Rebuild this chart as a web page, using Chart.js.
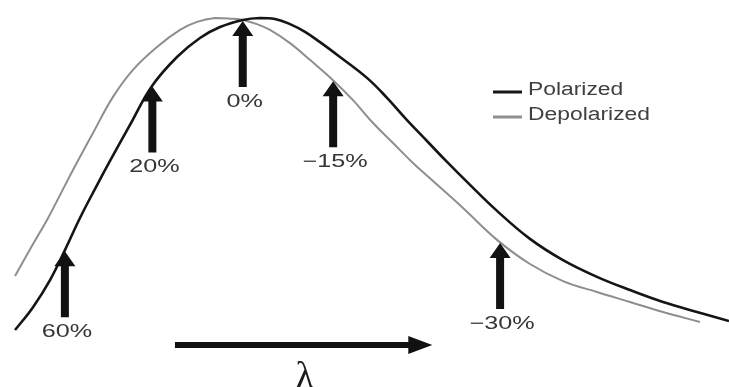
<!DOCTYPE html>
<html>
<head>
<meta charset="utf-8">
<script src="https://cdn.jsdelivr.net/npm/chart.js@4.4.1/dist/chart.umd.min.js"></script>
<style>
  html, body { margin: 0; padding: 0; background: #ffffff; }
  #wrap { width: 729px; height: 387px; }
</style>
</head>
<body>
<div id="wrap"><canvas id="c" width="729" height="387"></canvas></div>
<script>
// Spectral curves (wavelength in arbitrary units, intensity normalised to the peak)
const seriesNames = ['Polarized', 'Depolarized'];
const seriesColors = ['#151515', '#8e8e8e'];

const polarizedX = [2.06, 4.53, 6.86, 8.92, 10.97, 13.31, 15.09, 17.83, 20.85, 24.28, 27.43, 30.18,
  33.33, 35.67, 37.72, 39.78, 41.84, 43.90, 46.64, 50.34, 53.09, 55.83, 58.57, 61.32, 64.06, 68.18,
  72.70, 77.23, 81.89, 86.42, 90.95, 95.61, 100.0];
const polarizedY = [0.031, 0.102, 0.186, 0.280, 0.379, 0.481, 0.556, 0.668, 0.789, 0.879, 0.938,
  0.972, 0.994, 1.000, 0.997, 0.981, 0.957, 0.925, 0.879, 0.814, 0.752, 0.683, 0.618, 0.553, 0.491,
  0.401, 0.314, 0.248, 0.196, 0.155, 0.118, 0.087, 0.059];

const depolarizedX = [2.06, 4.53, 6.45, 8.23, 10.01, 12.76, 15.50, 18.24, 21.54, 24.69, 27.02, 29.49,
  31.55, 33.33, 35.25, 37.04, 39.78, 42.52, 45.68, 48.42, 51.17, 53.91, 56.65, 59.40, 63.51, 68.18,
  72.70, 77.23, 81.89, 86.42, 90.95, 96.02];
const depolarizedY = [0.199, 0.298, 0.373, 0.450, 0.528, 0.643, 0.755, 0.839, 0.910, 0.963, 0.988,
  1.000, 0.998, 0.994, 0.981, 0.963, 0.922, 0.870, 0.807, 0.745, 0.674, 0.612, 0.550, 0.494, 0.410,
  0.311, 0.236, 0.183, 0.149, 0.118, 0.087, 0.056];

// Annotated positions along the curves
const arrowX = [8.9, 20.9, 33.3, 45.7, 68.6];
const arrowLabels = ['60%', '20%', '0%', '\u221215%', '\u221230%'];
const arrowSeries = [0, 0, 0, 1, 1];

// Wavelength direction indicator
const axisSymbol = '\u03bb';
const axisArrowRange = [24.0, 59.3];

function toPoints(xs, ys) {
  return xs.map((x, i) => ({ x: x, y: ys[i] }));
}

function valueAt(points, x) {
  for (let i = 0; i < points.length - 1; i++) {
    const a = points[i], b = points[i + 1];
    if (x >= a.x && x <= b.x) {
      const t = (x - a.x) / (b.x - a.x);
      return a.y + t * (b.y - a.y);
    }
  }
  return points[points.length - 1].y;
}

function stretchedText(ctx, text, x, y, sx, align) {
  ctx.save();
  ctx.translate(x, y);
  ctx.scale(sx, 1);
  ctx.textAlign = align;
  ctx.textBaseline = 'middle';
  ctx.fillText(text, 0, 0);
  ctx.restore();
}

function upArrow(ctx, x, tipY, len, shaftW, headW, headL) {
  ctx.beginPath();
  ctx.moveTo(x, tipY);
  ctx.lineTo(x + headW / 2, tipY + headL);
  ctx.lineTo(x + shaftW / 2, tipY + headL);
  ctx.lineTo(x + shaftW / 2, tipY + len);
  ctx.lineTo(x - shaftW / 2, tipY + len);
  ctx.lineTo(x - shaftW / 2, tipY + headL);
  ctx.lineTo(x - headW / 2, tipY + headL);
  ctx.closePath();
  ctx.fill();
}

function rightArrow(ctx, x0, x1, y, shaftW, headW, headL) {
  ctx.beginPath();
  ctx.moveTo(x0, y - shaftW / 2);
  ctx.lineTo(x1 - headL, y - shaftW / 2);
  ctx.lineTo(x1 - headL, y - headW / 2);
  ctx.lineTo(x1, y);
  ctx.lineTo(x1 - headL, y + headW / 2);
  ctx.lineTo(x1 - headL, y + shaftW / 2);
  ctx.lineTo(x0, y + shaftW / 2);
  ctx.closePath();
  ctx.fill();
}

const annotations = {
  id: 'annotations',
  afterDatasetsDraw(chart) {
    const ctx = chart.ctx;
    const xs = chart.scales.x, ys = chart.scales.y;
    ctx.save();

    // Arrows pointing at the curves, with their percentage labels
    ctx.font = '18px "Liberation Sans", Arial, sans-serif';
    arrowX.forEach((ax, i) => {
      const pts = chart.data.datasets[arrowSeries[i]].data;
      const px = xs.getPixelForValue(ax);
      const tip = ys.getPixelForValue(valueAt(pts, ax)) + 1;
      ctx.fillStyle = '#121212';
      upArrow(ctx, px, tip, 66, 8, 21, 15);
      ctx.fillStyle = '#363636';
      stretchedText(ctx, arrowLabels[i], px + 2, tip + 81, 1.4, 'center');
    });

    // Wavelength arrow and symbol under the plot
    const bx0 = xs.getPixelForValue(axisArrowRange[0]);
    const bx1 = xs.getPixelForValue(axisArrowRange[1]);
    const by = chart.chartArea.bottom + 5;
    ctx.fillStyle = '#111111';
    rightArrow(ctx, bx0, bx1, by, 6, 18, 24);
    ctx.font = '38px "Liberation Serif", "DejaVu Serif", serif';
    ctx.textAlign = 'center';
    ctx.textBaseline = 'alphabetic';
    ctx.fillStyle = '#1a1a1a';
    ctx.fillText(axisSymbol, (bx0 + bx1) / 2 + 1, chart.height + 1);

    // Legend
    ctx.font = '18px "Liberation Sans", Arial, sans-serif';
    chart.data.datasets.forEach((ds, i) => {
      const ly = 91 + i * 25;
      ctx.strokeStyle = ds.borderColor;
      ctx.lineWidth = 3;
      ctx.beginPath();
      ctx.moveTo(493, ly + 1);
      ctx.lineTo(522, ly + 1);
      ctx.stroke();
      ctx.fillStyle = '#404040';
      stretchedText(ctx, ds.label, 528, ly - 1, 1.27, 'left');
    });

    ctx.restore();
  }
};

new Chart(document.getElementById('c'), {
  type: 'line',
  data: {
    datasets: [
      {
        label: seriesNames[0],
        data: toPoints(polarizedX, polarizedY),
        borderColor: seriesColors[0],
        borderWidth: 2.6,
        pointRadius: 0,
        tension: 0.4,
        clip: false
      },
      {
        label: seriesNames[1],
        data: toPoints(depolarizedX, depolarizedY),
        borderColor: seriesColors[1],
        borderWidth: 2,
        pointRadius: 0,
        tension: 0.4,
        clip: false
      }
    ]
  },
  options: {
    responsive: false,
    animation: false,
    events: [],
    layout: { padding: { top: 18, bottom: 47, left: 0, right: 0 } },
    scales: {
      x: { type: 'linear', min: 0, max: 100, display: false },
      y: { type: 'linear', min: 0, max: 1, display: false }
    },
    plugins: {
      legend: { display: false },
      tooltip: { enabled: false }
    }
  },
  plugins: [annotations]
});
</script>
</body>
</html>
